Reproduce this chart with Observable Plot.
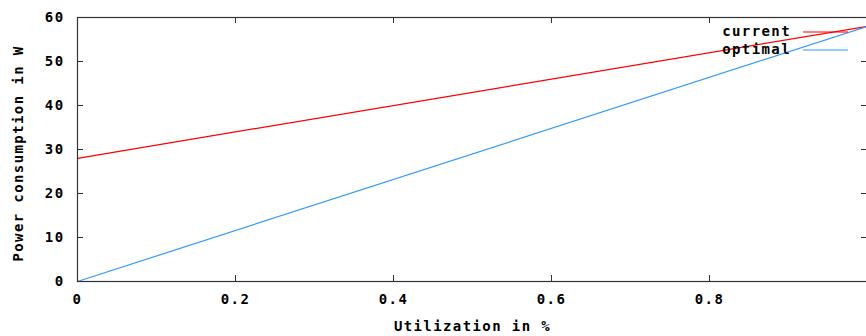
<!DOCTYPE html>
<html>
<head>
<meta charset="utf-8">
<script src="https://cdn.jsdelivr.net/npm/d3@7"></script>
<script src="https://cdn.jsdelivr.net/npm/@observablehq/plot@0.6"></script>
<style>
  html, body { margin: 0; padding: 0; background: #fff; }
  #chart svg { display: block; }
</style>
</head>
<body>
<div id="chart"></div>
<script>
const utilization = [0, 1];
const current = [28, 58];
const optimal = [0, 58];
const seriesNames = ["current", "optimal"];
const seriesColors = ["#ff0000", "#3399ff"];
const xTicks = [0, 0.2, 0.4, 0.6, 0.8];
const yTicks = [0, 10, 20, 30, 40, 50, 60];
const xLabel = "Utilization in %";
const yLabel = "Power consumption in W";

const rows = [];
seriesNames.forEach((name, i) => {
  const vals = i === 0 ? current : optimal;
  utilization.forEach((u, j) => rows.push({series: name, u, p: vals[j]}));
});

const W = 866, H = 336;
const mL = 77, mT = 17, mB = 55, mR = -1;
const innerW = W - mL - mR, innerH = H - mT - mB;
const tick = 6;

const plot = Plot.plot({
  width: W,
  height: H,
  marginLeft: mL,
  marginTop: mT,
  marginBottom: mB,
  marginRight: mR,
  style: {
    fontFamily: "'DejaVu Sans Mono', monospace",
    fontWeight: "bold",
    fontSize: "14px",
    background: "#fff",
    color: "#000"
  },
  x: {domain: [0, 1]},
  y: {domain: [0, 60]},
  color: {domain: seriesNames, range: seriesColors},
  marks: [
    Plot.axisX({ticks: xTicks, tickSize: 0, tickPadding: 13, tickFormat: d => String(d), label: null, fill: "#000"}),
    Plot.axisY({ticks: yTicks, tickSize: 0, tickPadding: 13, tickFormat: d => String(d), label: null, fill: "#000"}),
    Plot.tickX(xTicks, {x: d => d, insetTop: innerH - tick, stroke: "#333"}),
    Plot.tickX(xTicks, {x: d => d, insetBottom: innerH - tick, stroke: "#333"}),
    Plot.tickY(yTicks, {y: d => d, insetRight: innerW - tick, stroke: "#333"}),
    Plot.tickY(yTicks, {y: d => d, insetLeft: innerW - tick, stroke: "#333"}),
    Plot.line(rows, {x: "u", y: "p", z: "series", stroke: "series", strokeWidth: 1.2}),
    Plot.frame({stroke: "#333", strokeWidth: 1.2}),
    Plot.text([xLabel], {text: d => d, frameAnchor: "bottom", dy: 45, lineAnchor: "middle", fill: "#000"}),
    Plot.text([yLabel], {text: d => d, frameAnchor: "left", textAnchor: "middle", dx: -59, dy: 4, rotate: -90, lineAnchor: "middle", fill: "#000"})
  ]
});

document.getElementById("chart").appendChild(plot);

// legend
const svg = d3.select(plot);
const leg = svg.append("g");
seriesNames.forEach((name, i) => {
  const y = 32 + i * 18;
  leg.append("text")
    .attr("x", 791).attr("y", y)
    .attr("text-anchor", "end")
    .attr("dy", "0.32em")
    .attr("fill", "#000")
    .text(name);
  leg.append("line")
    .attr("x1", 803).attr("x2", 848)
    .attr("y1", y).attr("y2", y)
    .attr("stroke", seriesColors[i])
    .attr("stroke-width", 1.2);
});
svg.selectAll("text").style("letter-spacing", "1.4px");
</script>
</body>
</html>
